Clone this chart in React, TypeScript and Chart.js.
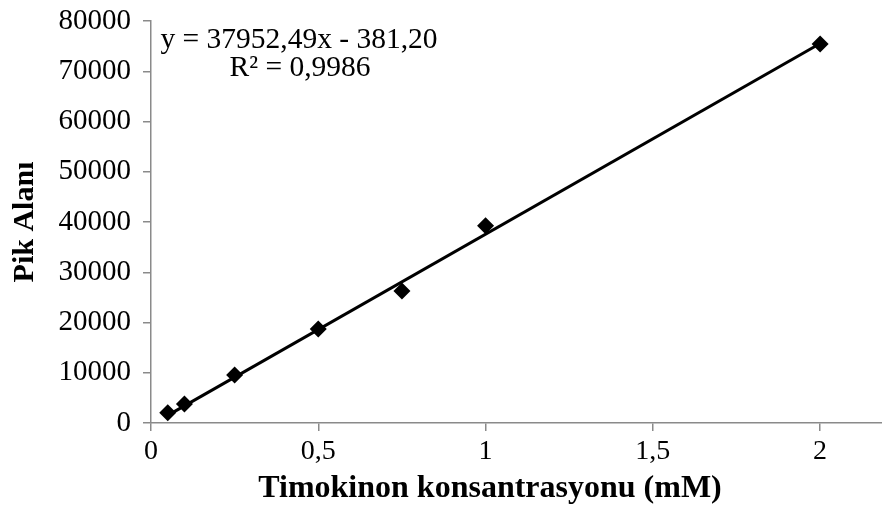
import React, { useEffect, useRef } from "react";
import { Chart, registerables } from "chart.js";

Chart.register(...registerables);

const concentrations = [0.05, 0.1, 0.25, 0.5, 0.75, 1, 2];
const peakAreas = [2050, 3780, 9550, 18700, 26270, 39260, 75420];
const slope = 37952.49;
const intercept = -381.2;
const equationLines = ["y = 37952,49x - 381,20", "R² = 0,9986"];
const xTickValues = [0, 0.5, 1, 1.5, 2];
const xTitle = "Timokinon konsantrasyonu (mM)";
const yTitle = "Pik Alanı";

const FONT = "'Liberation Serif', 'Times New Roman', serif";
const AXIS = "#8a8a8a";

const textPlugin = {
  id: "extraText",
  afterDatasetsDraw(chart: any) {
    const ctx = chart.ctx;
    ctx.save();
    ctx.fillStyle = "#000";
    ctx.font = `29.5px ${FONT}`;
    ctx.textAlign = "center";
    ctx.textBaseline = "alphabetic";
    ctx.fillText(equationLines[0], 299, 48);
    ctx.fillText(equationLines[1], 300, 76);
    ctx.font = `bold 32px ${FONT}`;
    ctx.textBaseline = "middle";
    ctx.fillText(xTitle, 490, 489);
    ctx.restore();
  },
};

export default function App() {
  const ref = useRef<HTMLCanvasElement | null>(null);
  useEffect(() => {
    document.body.style.margin = "0";
    const xMin = concentrations[0];
    const xMax = concentrations[concentrations.length - 1];
    const chart = new Chart(ref.current!, {
      type: "scatter",
      data: {
        datasets: [
          {
            type: "scatter",
            data: concentrations.map((x, i) => ({ x, y: peakAreas[i] })),
            pointStyle: "rectRot",
            pointRadius: 8.5,
            pointHoverRadius: 8.5,
            backgroundColor: "#000",
            borderColor: "#000",
            borderWidth: 0,
          },
          {
            type: "line",
            data: [
              { x: xMin, y: slope * xMin + intercept },
              { x: xMax, y: slope * xMax + intercept },
            ],
            borderColor: "#000",
            borderWidth: 3,
            pointRadius: 0,
            fill: false,
          } as any,
        ],
      },
      options: {
        animation: false,
        responsive: false,
        maintainAspectRatio: false,
        layout: { autoPadding: false, padding: { top: 21, right: 0, left: 0, bottom: 0 } },
        plugins: { legend: { display: false }, tooltip: { enabled: false } },
        scales: {
          x: {
            type: "linear",
            min: 0,
            max: 2.185,
            afterBuildTicks(scale: any) {
              scale.ticks = xTickValues.map((v) => ({ value: v }));
            },
            afterFit(scale: any) {
              scale.height = 88;
              scale.paddingLeft = 0;
              scale.paddingRight = 0;
            },
            border: { color: AXIS, width: 1.5 },
            grid: { drawOnChartArea: false, color: AXIS, tickLength: 8, lineWidth: 1.5 },
            ticks: {
              color: "#000",
              font: { family: FONT, size: 28 },
              padding: 4,
              maxRotation: 0,
              callback: (v: any) => String(v).replace(".", ","),
            },
          },
          y: {
            type: "linear",
            min: 0,
            max: 80000,
            ticks: {
              stepSize: 10000,
              color: "#000",
              font: { family: FONT, size: 29 },
              padding: 12,
              callback: (v: any) => String(v),
            },
            afterFit(scale: any) {
              scale.width = 151;
              scale.paddingTop = 0;
              scale.paddingBottom = 0;
            },
            border: { color: AXIS, width: 1.5 },
            grid: { drawOnChartArea: false, color: AXIS, tickLength: 8, lineWidth: 1.5 },
            title: {
              display: true,
              text: yTitle,
              color: "#000",
              font: { family: FONT, size: 30, weight: "bold" },
              padding: { top: 7, bottom: 0 },
            },
          },
        },
      },
      plugins: [textPlugin],
    });
    return () => chart.destroy();
  }, []);
  return (
    <div style={{ width: 882, height: 511 }}>
      <canvas ref={ref} width={882} height={511} style={{ display: "block" }} />
    </div>
  );
}
